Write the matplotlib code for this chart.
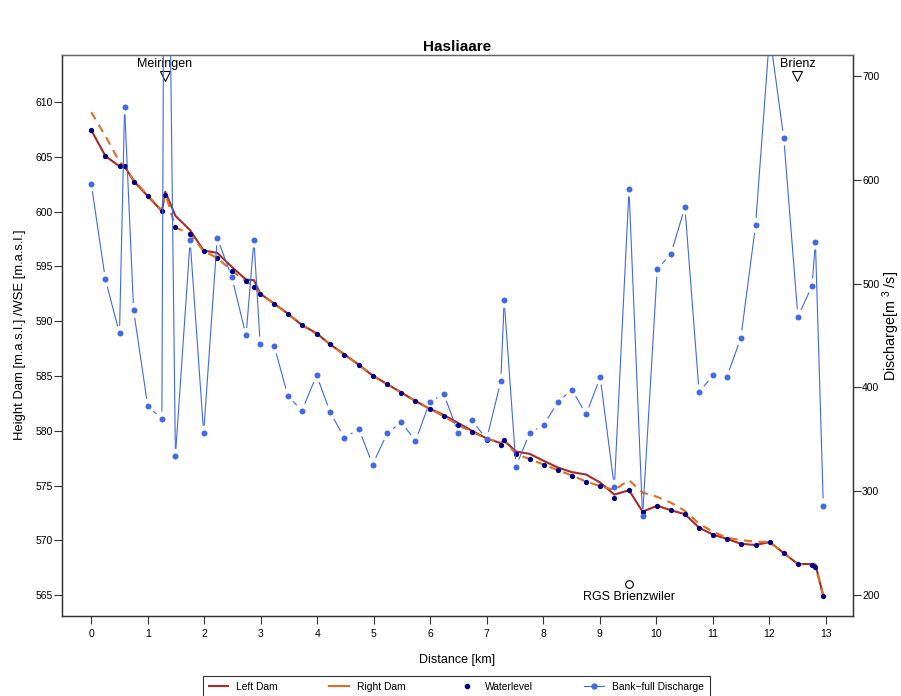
import numpy as np
import matplotlib
matplotlib.use('Agg')
import matplotlib.pyplot as plt
from matplotlib.lines import Line2D

plt.rcParams['font.family'] = ['Liberation Sans', 'DejaVu Sans']
plt.rcParams['mathtext.default'] = 'regular'

# ---------------- data ----------------
distance_km = [0, 0.25, 0.5, 0.59, 0.75, 1.0, 1.25, 1.31, 1.49, 1.75,
               1.99, 2.23, 2.49, 2.74, 2.88, 2.99, 3.24, 3.48, 3.73, 3.99,
               4.23, 4.48, 4.74, 4.98, 5.24, 5.49, 5.74, 5.99, 6.24, 6.5,
               6.74, 7.0, 7.25, 7.31, 7.52, 7.76, 8.01, 8.26, 8.51, 8.76,
               9.01, 9.26, 9.52, 9.76, 10.02, 10.26, 10.51, 10.76, 11.01, 11.25,
               11.5, 11.76, 12.01, 12.26, 12.51, 12.76, 12.82, 12.96]

waterlevel = [607.44, 605.08, 604.14, 604.14, 602.70, 601.42, 600.05, 601.54, 598.56, 597.97,
              596.39, 595.78, 594.59, 593.64, 593.16, 592.52, 591.60, 590.65, 589.65, 588.82,
              587.88, 586.94, 586.02, 585.01, 584.26, 583.49, 582.71, 582.02, 581.32, 580.53,
              579.89, 579.19, 578.73, 579.12, 577.88, 577.42, 576.92, 576.41, 575.92, 575.37,
              574.95, 573.88, 574.58, 572.62, 573.17, 572.75, 572.39, 571.16, 570.52, 570.15,
              569.69, 569.58, 569.85, 568.84, 567.84, 567.72, 567.56, 564.91]

left_dam = [607.44, 605.08, 604.14, 604.14, 602.80, 601.42, 600.05, 601.82, 599.62, 598.31,
            596.45, 596.24, 594.95, 593.80, 593.75, 592.52, 591.60, 590.70, 589.65, 588.90,
            587.88, 586.98, 586.02, 585.05, 584.26, 583.49, 582.71, 582.02, 581.45, 580.70,
            580.00, 579.30, 578.88, 579.10, 578.11, 577.90, 577.26, 576.65, 576.23, 576.01,
            575.28, 574.18, 574.58, 572.62, 573.17, 572.75, 572.39, 571.16, 570.52, 570.15,
            569.69, 569.58, 569.85, 568.84, 567.84, 567.84, 567.80, 564.91]

right_dam = [609.08, 606.90, 604.56, 604.14, 602.90, 601.50, 600.10, 601.70, 598.56, 597.97,
             596.39, 595.78, 594.59, 593.64, 593.16, 592.52, 591.60, 590.65, 589.65, 588.82,
             587.88, 586.94, 586.02, 585.01, 584.26, 583.49, 582.71, 582.02, 581.32, 580.53,
             579.89, 579.30, 578.90, 579.10, 577.88, 577.42, 576.92, 576.41, 575.92, 575.37,
             574.95, 574.60, 575.50, 574.36, 573.97, 573.45, 572.69, 571.52, 570.79, 570.24,
             570.03, 569.88, 569.85, 568.84, 567.84, 567.75, 567.60, 564.95]

discharge = [596.0, 504.0, 452.0, 670.0, 474.1, 382.0, 369.7, 1150.0, 333.8, 541.8,
             356.0, 544.0, 505.9, 450.0, 541.8, 441.7, 439.7, 391.9, 377.8, 411.8,
             375.9, 351.8, 359.8, 325.8, 356.0, 366.6, 348.3, 385.8, 393.8, 355.7,
             368.2, 350.2, 406.0, 483.7, 323.9, 356.0, 364.0, 385.8, 398.0, 374.0,
             409.9, 304.0, 590.9, 275.8, 513.9, 528.3, 573.6, 395.7, 411.8, 409.9,
             447.7, 556.0, 740.0, 640.0, 468.0, 497.8, 539.9, 286.0]

x_ticks = list(range(0, 14))
left_ticks = [565, 570, 575, 580, 585, 590, 595, 600, 605, 610]
right_ticks = [200, 300, 400, 500, 600, 700]

locations_names = ['Meiringen', 'Brienz']
locations_km = [1.3, 12.5]
location_level = 612.4
gauge_name = 'RGS Brienzwiler'
gauge_km = 9.52
gauge_level = 566.0

# ---------------- style ----------------
LEFT_C = '#A52A2A'
RIGHT_C = '#DD6F25'
WATER_C = '#000080'
BLUE_C = '#4169E1'
SPINE_C = '#333333'

W, H = 901, 696
fig = plt.figure(figsize=(W / 100, H / 100), dpi=100)
Lp, Rp, Bp, Tp = 62, 852.7, 616, 55
ax = fig.add_axes([Lp / W, 1 - Bp / H, (Rp - Lp) / W, (Bp - Tp) / H])
XLIM = (-0.518, 13.48)
YLIM = (563.1, 614.3)
Y2LIM = (180, 720)
ax.set_xlim(*XLIM)
ax.set_ylim(*YLIM)
ax2 = ax.twinx()
ax2.set_ylim(*Y2LIM)
ax.set_xlim(*XLIM)

ax.plot(distance_km, left_dam, color=LEFT_C, lw=1.5, zorder=2)
ax.plot(distance_km, right_dam, color=RIGHT_C, lw=1.5, dashes=(4, 3), zorder=3)
ax.plot(distance_km, waterlevel, 'o', color=WATER_C, ms=3.8, mec='none', zorder=4)

# annotations
for name, km in zip(locations_names, locations_km):
    ax.plot([km], [location_level], marker='v', mfc='none', mec='black', mew=0.8, ms=7, zorder=5)
    ax.annotate(name, (km, location_level), xytext=(0, 8.8), textcoords='offset points',
                ha='center', va='center', fontsize=9)
ax.plot([gauge_km], [gauge_level], marker='o', mfc='none', mec='black', mew=0.8, ms=5.5, zorder=5)
ax.annotate(gauge_name, (gauge_km, gauge_level), xytext=(0, -9.4), textcoords='offset points',
            ha='center', va='center', fontsize=9)

# discharge, R type="b": points with gapped connecting lines
ax2.plot(distance_km, discharge, 'o', color=BLUE_C, ms=4.3, mec='none', zorder=4)
trans = ax2.transData
pts = trans.transform(np.column_stack([distance_km, discharge]))
inv = trans.inverted()
gap = 8.0
for p0, p1 in zip(pts[:-1], pts[1:]):
    d = p1 - p0
    ln = np.hypot(d[0], d[1])
    if ln > 2 * gap:
        u = d / ln
        seg = inv.transform(np.array([p0 + u * gap, p1 - u * gap]))
        ax2.plot(seg[:, 0], seg[:, 1], color=BLUE_C, lw=0.8, zorder=3)
ax2.set_ylim(*Y2LIM)
ax.set_xlim(*XLIM)
ax.set_ylim(*YLIM)

# axes styling
ax.set_xticks(x_ticks)
ax.set_yticks(left_ticks)
ax2.set_yticks(right_ticks)
ax.tick_params(axis='x', length=5.8, pad=3.5, labelsize=7.5, color=SPINE_C, width=0.8)
ax.tick_params(axis='y', length=5.8, pad=1, labelsize=7.5, color=SPINE_C, width=0.8)
ax2.tick_params(axis='y', length=5.8, pad=1, labelsize=7.5, color=SPINE_C, width=0.8)
for a in (ax, ax2):
    for s in a.spines.values():
        s.set_color(SPINE_C)
        s.set_linewidth(0.9)
    a.spines['top'].set_color('#666666')

fig.text(457 / W, 1 - 47 / H, 'Hasliaare', ha='center', va='center', fontsize=11, fontweight='bold')
fig.text(20 / W, 1 - 335 / H, 'Height Dam [m.a.s.l.] /WSE [m.a.s.l.]', rotation=90,
         ha='center', va='center', fontsize=9.4)
fig.text(891 / W, 1 - 326 / H, 'Discharge[m $^3$ /s]', rotation=90, ha='center', va='center',
         fontsize=10.3)
fig.text(457 / W, 1 - 660 / H, 'Distance [km]', ha='center', va='center', fontsize=9)

handles = [Line2D([], [], color=LEFT_C, lw=1.5),
           Line2D([], [], color=RIGHT_C, lw=1.5),
           Line2D([], [], color=WATER_C, marker='o', ls='none', ms=3),
           Line2D([], [], color=BLUE_C, lw=0.8, marker='o', ms=3.5)]
labels = ['Left Dam', 'Right Dam', 'Waterlevel', 'Bank\u2212full Discharge']
leg = fig.legend(handles, labels, loc='upper left', bbox_to_anchor=(203 / W, 1 - 676 / H),
                 ncol=4, fontsize=7.4, frameon=True, fancybox=False, edgecolor='black',
                 borderpad=0.55, handlelength=1.9, handletextpad=0.8, columnspacing=5.0,
                 numpoints=1, borderaxespad=0)
leg.get_frame().set_linewidth(0.8)

fig.savefig('out.png', dpi=100)
